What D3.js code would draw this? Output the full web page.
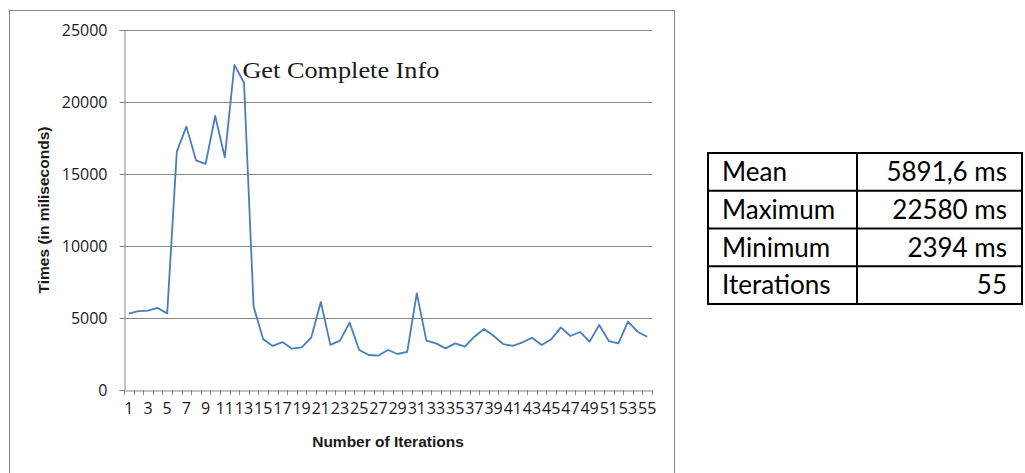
<!DOCTYPE html>
<html><head><meta charset="utf-8">
<script src="https://cdn.jsdelivr.net/npm/d3@7"></script>
<style>
html,body{margin:0;padding:0;background:#fff;}
svg{display:block;}
</style></head>
<body>
<svg id="chart" width="1025" height="473"></svg>
<script>
const iterations = d3.range(1, 56);
const times = [5300, 5480, 5510, 5700, 5320, 16550, 18290, 15950, 15700, 19030,
  16150, 22580, 21340, 5790, 3520, 3060, 3330, 2870, 2960, 3630,
  6110, 3130, 3430, 4680, 2780, 2430, 2394, 2780, 2500, 2640,
  6710, 3430, 3240, 2890, 3240, 3010, 3700, 4240, 3770, 3190,
  3060, 3310, 3630, 3130, 3520, 4350, 3750, 4030, 3360, 4510,
  3400, 3240, 4750, 4050, 3700];
const yTicks = [0, 5000, 10000, 15000, 20000, 25000];
const xTickLabels = iterations.filter(d => d % 2 === 1);
const tableRows = ["Mean", "Maximum", "Minimum", "Iterations"];
const tableValues = ["5891,6 ms", "22580 ms", "2394 ms", "55"];
const annotation = "Get Complete Info";

const svg = d3.select("#chart");
const grey = "#868686";
const sans = "Open Sans, Liberation Sans, Arial, sans-serif";

// chart frame
svg.append("rect").attr("x", 9.5).attr("y", 10.5).attr("width", 665).attr("height", 480)
  .attr("fill", "none").attr("stroke", grey).attr("stroke-width", 1);

const L = 124, R = 652, T = 30, B = 390;
const x = d3.scaleBand().domain(iterations).range([L, R]).padding(0);
const y = d3.scaleLinear().domain([0, 25000]).range([B, T]);

// gridlines
svg.append("g").selectAll("line").data(yTicks.filter(d => d > 0)).join("line")
  .attr("x1", L).attr("x2", R).attr("y1", d => Math.round(y(d)) + 0.5).attr("y2", d => Math.round(y(d)) + 0.5)
  .attr("stroke", grey).attr("stroke-width", 1);

// y axis
const yAxis = svg.append("g").attr("transform", `translate(${L + 0.5},0)`)
  .call(d3.axisLeft(y).tickValues(yTicks).tickSize(5).tickPadding(12).tickFormat(d3.format("d")));
yAxis.select(".domain").attr("stroke", grey);
yAxis.selectAll(".tick line").attr("stroke", grey);
yAxis.selectAll(".tick text").attr("font-family", sans)
  .attr("font-size", 16).attr("fill", "#1a1a1a");

// x axis
const xAxis = svg.append("g").attr("transform", `translate(0,${B + 0.5})`)
  .call(d3.axisBottom(x).tickValues(xTickLabels).tickSize(0).tickPadding(12));
xAxis.select(".domain").attr("stroke", grey);
xAxis.selectAll(".tick text").attr("font-family", sans)
  .attr("font-size", 16).attr("fill", "#1a1a1a");
// category boundary ticks
svg.append("g").selectAll("line").data(iterations.map(d => x(d)).concat([R])).join("line")
  .attr("x1", d => Math.round(d) + 0.5).attr("x2", d => Math.round(d) + 0.5)
  .attr("y1", B).attr("y2", B + 5).attr("stroke", grey);

// axis titles
svg.append("text").attr("x", (L + R) / 2).attr("y", 447).attr("text-anchor", "middle")
  .attr("font-family", "Liberation Sans, Arial, sans-serif").attr("font-weight", "bold")
  .attr("font-size", 15.5).attr("fill", "#1a1a1a").text("Number of Iterations");
svg.append("text").attr("transform", `translate(49,${(T + B) / 2}) rotate(-90)`).attr("text-anchor", "middle")
  .attr("font-family", "Liberation Sans, Arial, sans-serif").attr("font-weight", "bold")
  .attr("font-size", 15.5).attr("fill", "#1a1a1a").text("Times (in miliseconds)");

// line
const line = d3.line().x((d, i) => x(iterations[i]) + x.bandwidth() / 2).y(d => y(d));
svg.append("path").datum(times).attr("d", line).attr("fill", "none")
  .attr("stroke", "#4a7ebb").attr("stroke-width", 1.8).attr("stroke-linejoin", "round");

// annotation at max point
const iMax = times.indexOf(d3.max(times));
svg.append("text").attr("x", x(iterations[iMax]) + x.bandwidth() / 2 + 8).attr("y", 78)
  .attr("font-family", "Liberation Serif, Times New Roman, serif").attr("font-size", 23)
  .attr("textLength", 197).attr("lengthAdjust", "spacingAndGlyphs")
  .attr("fill", "#1a1a1a").text(annotation);

// table
const ty = d3.scaleBand().domain(d3.range(tableRows.length)).range([153, 304]);
const tbl = svg.append("g");
const colX = [708, 857, 1022];
ty.domain().concat([tableRows.length]).forEach(i => {
  const yy = i < tableRows.length ? ty(i) : 304;
  tbl.append("line").attr("x1", 707).attr("x2", 1023).attr("y1", yy).attr("y2", yy)
    .attr("stroke", "#000").attr("stroke-width", 2);
});
colX.forEach(cx => tbl.append("line").attr("x1", cx).attr("x2", cx).attr("y1", 152).attr("y2", 305)
  .attr("stroke", "#000").attr("stroke-width", 2));
tbl.selectAll("text.k").data(tableRows).join("text").attr("class", "k")
  .attr("x", 722).attr("y", (d, i) => ty(i) + 28)
  .attr("font-family", "Lato, sans-serif").attr("font-size", 26).attr("fill", "#000").text(d => d);
tbl.selectAll("text.v").data(tableValues).join("text").attr("class", "v")
  .attr("x", 1007).attr("y", (d, i) => ty(i) + 28).attr("text-anchor", "end")
  .attr("font-family", "Lato, sans-serif").attr("font-size", 26).attr("fill", "#000").text(d => d);
</script>
</body></html>
